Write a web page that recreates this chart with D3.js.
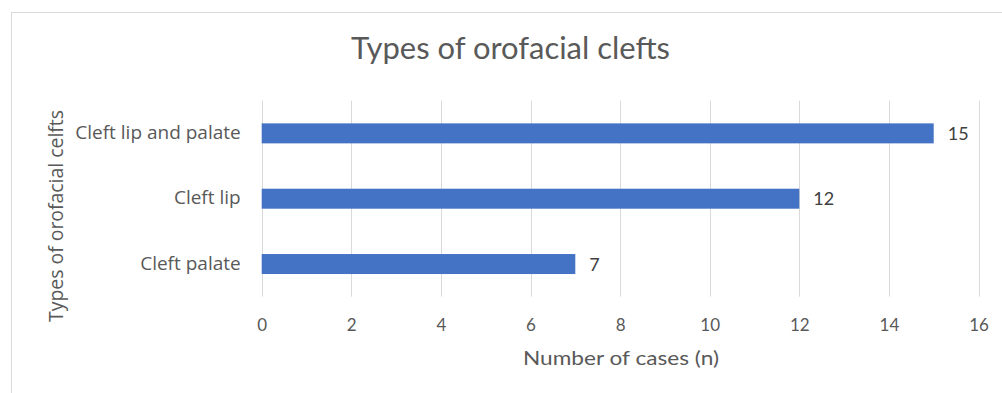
<!DOCTYPE html>
<html><head><meta charset="utf-8">
<script src="https://cdn.jsdelivr.net/npm/d3@7"></script>
<style>html,body{margin:0;padding:0;background:#fff;}svg{display:block;}</style>
</head><body>
<svg id="chart" width="1002" height="393"></svg>
<script>
const categories = ["Cleft lip and palate", "Cleft lip", "Cleft palate"];
const values = [15, 12, 7];
const xTicks = [0, 2, 4, 6, 8, 10, 12, 14, 16];
const titleText = "Types of orofacial clefts";
const xTitle = "Number of cases (n)";
const yTitle = "Types of orofacial celfts";

const svg = d3.select("#chart");
const FONT = "Lato, 'Open Sans', sans-serif";
const FONT2 = "'Open Sans', Lato, sans-serif";
const TXT = "#595959";

// outer chart border
svg.append("rect").attr("x", 11.5).attr("y", 12.5).attr("width", 1000).attr("height", 400)
  .attr("fill", "#fff").attr("stroke", "#d9d9d9").attr("stroke-width", 1);

const m = {left: 261.7, right: 978.5, top: 100.7, bottom: 296.7};
const x = d3.scaleLinear().domain([0, 16]).range([m.left, m.right]);
const y = d3.scaleBand().domain(categories).range([m.top, m.bottom]).paddingInner(0.694).paddingOuter(0.347);

// gridlines
svg.append("g").selectAll("line").data(xTicks).join("line")
  .attr("x1", d => Math.round(x(d)) + 0.5).attr("x2", d => Math.round(x(d)) + 0.5)
  .attr("y1", m.top).attr("y2", m.bottom)
  .attr("stroke", "#d9d9d9").attr("stroke-width", 1);

// bars
svg.append("g").selectAll("rect").data(categories).join("rect")
  .attr("x", x(0)).attr("y", d => y(d))
  .attr("width", (d, i) => x(values[i]) - x(0)).attr("height", y.bandwidth())
  .attr("fill", "#4472c4");

// value labels
svg.append("g").selectAll("text").data(categories).join("text")
  .attr("x", (d, i) => x(values[i]) + 14).attr("y", d => y(d) + y.bandwidth() / 2)
  .attr("dy", "0.36em").attr("font-family", FONT).attr("font-size", 18).attr("fill", "#404040")
  .text((d, i) => values[i]);

// x axis (ticks labels only)
const xAxis = d3.axisBottom(x).tickValues(xTicks).tickSize(0).tickPadding(0);
const gx = svg.append("g").attr("transform", `translate(0,${m.bottom})`).call(xAxis);
gx.select(".domain").remove();
gx.selectAll("text").attr("font-family", FONT).attr("font-size", 17).attr("fill", TXT)
  .attr("y", 28).attr("dy", "0.35em");

// y axis labels
const yAxis = d3.axisLeft(y).tickSize(0).tickPadding(21);
const gy = svg.append("g").attr("transform", `translate(${m.left},0)`).call(yAxis);
gy.select(".domain").remove();
gy.selectAll("text").attr("font-family", FONT2).attr("font-size", 19).attr("fill", TXT).attr("dy", "0.3em");

// title
svg.append("text").attr("x", 510.5).attr("y", 59).attr("text-anchor", "middle")
  .attr("font-family", FONT).attr("font-size", 31).attr("fill", TXT)
  .attr("textLength", 319).attr("lengthAdjust", "spacingAndGlyphs")
  .text(titleText);

// x title
svg.append("text").attr("x", 621).attr("y", 365).attr("text-anchor", "middle")
  .attr("font-family", FONT).attr("font-size", 20).attr("fill", TXT)
  .attr("textLength", 196).attr("lengthAdjust", "spacingAndGlyphs")
  .text(xTitle);

// y title
svg.append("text").attr("transform", "translate(63,216) rotate(-90)").attr("text-anchor", "middle")
  .attr("font-family", FONT2).attr("font-size", 20).attr("fill", TXT)
  .attr("textLength", 212).attr("lengthAdjust", "spacingAndGlyphs")
  .text(yTitle);
</script>
</body></html>
